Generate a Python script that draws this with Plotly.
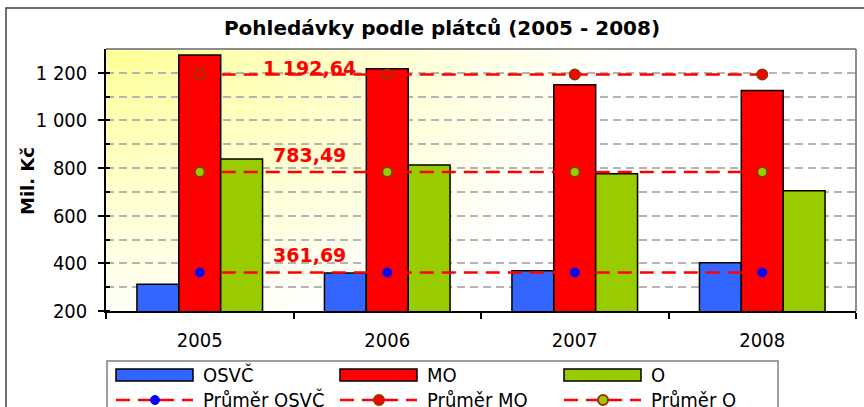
import zlib, struct, base64, math
import plotly.graph_objects as go

# ---------------- data ----------------
roky = ["2005", "2006", "2007", "2008"]
osvc = [312, 360, 369, 403]
mo = [1275, 1217, 1150, 1126]
o = [838, 813, 776, 705]
prumer_osvc = [361.69, 361.69, 361.69, 361.69]
prumer_mo = [1192.64, 1192.64, 1192.64, 1192.64]
prumer_o = [783.49, 783.49, 783.49, 783.49]
y_tickvals = [200, 400, 600, 800, 1000, 1200]
y_ticktext = ["200", "400", "600", "800", "1 000", "1 200"]
nazvy_sloupcu = ["OSVČ", "MO", "O"]
nazvy_prumeru = ["Průměr OSVČ", "Průměr MO", "Průměr O"]

W, H = 864, 407
ML, MR, MT, MB = 106, 8, 49, 96
PW, PH = W - ML - MR, H - MT - MB

FONT = "DejaVu Sans Condensed, DejaVu Sans, sans-serif"
BFONT = "DejaVu Sans, sans-serif"

C_BLUE, C_RED, C_GREEN = "#3366FF", "#FF0000", "#99CC00"


def px(x):
    return (x - ML) / PW


def py(y):
    return (H - MB - y) / PH


# --------- gradient background image (pure python png) ---------
def png_uri(w, h):
    rows = []
    for j in range(h):
        row = bytearray([0])
        for i in range(w):
            X = i / (w - 1) * PW
            Y = j / (h - 1) * PH
            t = min(1.0, math.sqrt((X / 520) ** 2 + (Y / 290) ** 2)) ** 0.9
            b = round(150 + (255 - 150) * t)
            row += bytes([255, 255, b])
        rows.append(bytes(row))
    raw = b"".join(rows)

    def chunk(t, d):
        c = struct.pack(">I", len(d)) + t + d
        return c + struct.pack(">I", zlib.crc32(t + d) & 0xFFFFFFFF)

    png = (b"\x89PNG\r\n\x1a\n" + chunk(b"IHDR", struct.pack(">IIBBBBB", w, h, 8, 2, 0, 0, 0))
           + chunk(b"IDAT", zlib.compress(raw)) + chunk(b"IEND", b""))
    return "data:image/png;base64," + base64.b64encode(png).decode()


fig = go.Figure()

for name, vals, col in zip(nazvy_sloupcu, [osvc, mo, o], [C_BLUE, C_RED, C_GREEN]):
    fig.add_trace(go.Bar(x=roky, y=vals, name=name, marker=dict(color=col, line=dict(color="black", width=1.5)),
                         showlegend=False))

avg_styles = [
    dict(color="#0000FF", line=dict(color="#0000FF", width=1), size=9),
    dict(color="#FF0000", line=dict(color="#993300", width=2), size=10),
    dict(color="#99CC00", line=dict(color="#993300", width=2), size=10),
]
for name, vals, mk in zip(nazvy_prumeru, [prumer_osvc, prumer_mo, prumer_o], avg_styles):
    fig.add_trace(go.Scatter(x=roky, y=vals, name=name, mode="lines+markers",
                             line=dict(color="#FF0000", width=2.5, dash="14px,8px"),
                             marker=dict(symbol="circle", **mk), showlegend=False))

annotations = []
# data labels of averages (attached to the first category, index 0)
for vals, ys in zip([prumer_osvc, prumer_mo, prumer_o], [17, 7, 17]):
    v = vals[0]
    txt = f"{v:,.2f}".replace(",", " ").replace(".", ",")
    annotations.append(dict(x=0, y=v, xref="x", yref="y", text="<b>" + txt + "</b>", showarrow=False,
                            xshift=110, yshift=ys, font=dict(family=BFONT, size=19, color="#FF0000")))

# y axis title
annotations.append(dict(x=px(27), y=py(181), xref="paper", yref="paper", text="<b>Mil. Kč</b>", textangle=-90,
                        xanchor="center", yanchor="middle",
                        showarrow=False, font=dict(family=BFONT, size=18, color="black")))

shapes = []
# outer chart border
shapes.append(dict(type="rect", xref="paper", yref="paper", x0=px(6), x1=px(880), y0=py(8), y1=py(430),
                   line=dict(color="#404040", width=1.5), layer="below"))
# plot area top & right border
shapes.append(dict(type="line", xref="paper", yref="paper", x0=0, x1=1, y0=1, y1=1,
                   line=dict(color="#8C8C8C", width=2)))
shapes.append(dict(type="line", xref="paper", yref="paper", x0=1, x1=1, y0=0, y1=1,
                   line=dict(color="#8C8C8C", width=2)))

# ---- custom legend ----
shapes.append(dict(type="rect", xref="paper", yref="paper", x0=px(107), x1=px(778), y0=py(361), y1=py(440),
                   line=dict(color="#7F7F7F", width=1.5), fillcolor="white"))
cols_x = [116, 340, 564]
row1, row2 = 375, 400
for cx, name, col in zip(cols_x, nazvy_sloupcu, [C_BLUE, C_RED, C_GREEN]):
    shapes.append(dict(type="rect", xref="paper", yref="paper", x0=px(cx), x1=px(cx + 77),
                       y0=py(row1 - 6), y1=py(row1 + 6), fillcolor=col, line=dict(color="black", width=1.5)))
    annotations.append(dict(x=px(cx + 85), y=py(row1), xref="paper", yref="paper", text=name,
                            showarrow=False, xanchor="left", yanchor="middle",
                            font=dict(family=FONT, size=20, color="black")))
for cx, name, mk in zip(cols_x, nazvy_prumeru, avg_styles):
    shapes.append(dict(type="line", xref="paper", yref="paper", x0=px(cx), x1=px(cx + 77),
                       y0=py(row2), y1=py(row2), line=dict(color="#FF0000", width=2.5, dash="14px,8px")))
    r = mk["size"] / 2
    shapes.append(dict(type="circle", xref="paper", yref="paper", x0=px(cx + 39 - r), x1=px(cx + 39 + r),
                       y0=py(row2 - r), y1=py(row2 + r), fillcolor=mk["color"],
                       line=dict(color=mk["line"]["color"], width=mk["line"]["width"])))
    annotations.append(dict(x=px(cx + 85), y=py(row2), xref="paper", yref="paper", text=name,
                            showarrow=False, xanchor="left", yanchor="middle",
                            font=dict(family=FONT, size=20, color="black")))

fig.update_layout(
    width=W, height=H,
    margin=dict(l=ML, r=MR, t=MT, b=MB),
    paper_bgcolor="white", plot_bgcolor="rgba(0,0,0,0)",
    barmode="group", bargap=0.33, bargroupgap=0,
    title=dict(text="<b>Pohledávky podle plátců (2005 - 2008)</b>", x=442 / W, xref="container",
               y=1 - 28 / H, yref="container", xanchor="center", yanchor="middle",
               font=dict(family=BFONT, size=20, color="black")),
    images=[dict(source=png_uri(150, 52), xref="paper", yref="paper", x=0, y=1, sizex=1, sizey=1,
                 xanchor="left", yanchor="top", sizing="stretch", layer="below")],
    shapes=shapes,
    annotations=annotations,
    showlegend=False,
    xaxis=dict(type="category", range=[-0.5, len(roky) - 0.5], autorange=False,
               tickson="boundaries", ticks="outside", ticklen=6, tickwidth=1.5, ticklabelstandoff=10,
               tickcolor="black", showline=True, linecolor="black", linewidth=1.5, showgrid=False,
               tickfont=dict(family=FONT, size=20, color="black")),
    yaxis=dict(range=[200, 1300], autorange=False, tickvals=y_tickvals, ticktext=y_ticktext, ticks="outside",
               ticklen=6, tickwidth=1.5, tickcolor="black", showline=True, linecolor="black", linewidth=1.5,
               ticklabelstandoff=7,
               zeroline=False, showgrid=True, gridcolor="#B4B4B4", gridwidth=1.5, griddash="8px,5px",
               minor=dict(dtick=100, tick0=200, showgrid=True, gridcolor="#B4B4B4", gridwidth=1.5,
                          griddash="8px,5px", ticks="inside", ticklen=4, tickcolor="black"),
               tickfont=dict(family=FONT, size=20, color="black")),
)

fig.write_html("out.html", config={"displayModeBar": False},
               post_script="document.body.style.margin='0px';")
